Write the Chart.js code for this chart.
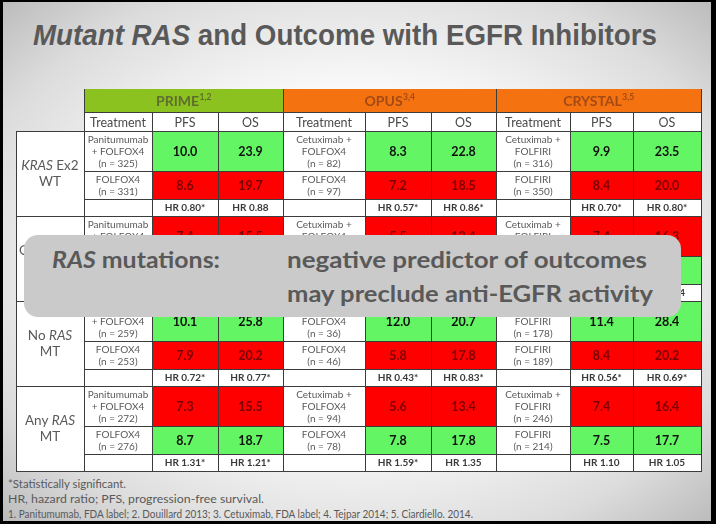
<!DOCTYPE html>
<html><head><meta charset="utf-8">
<script src="https://cdn.jsdelivr.net/npm/chart.js@4/dist/chart.umd.min.js"></script>
<style>
html,body{margin:0;padding:0}
body{width:716px;height:524px;overflow:hidden;position:relative;background:#000}
#slide{position:absolute;left:3px;top:2px;width:708px;height:519px;
 background:radial-gradient(ellipse farthest-corner at 50% 50%, #ffffff 0%, #fbfbfb 45%, #dcdcdc 80%, #bcbcbc 100%);}
#title{position:absolute;left:33px;top:21px;font:bold 29px "Liberation Sans",Arial,sans-serif;line-height:1;color:#595959;white-space:nowrap;transform-origin:0 0}
#cv{position:absolute;left:15px;top:88px}
#overlay{position:absolute;left:24px;top:235px;width:657px;height:82px;background:#cacaca;border-radius:14px}
.ovl{position:absolute;font:bold 23px Lato,sans-serif;line-height:1;color:#595959;white-space:nowrap;transform-origin:0 0}
.note{position:absolute;left:8px;font:11px Lato,sans-serif;line-height:1;color:#595959;white-space:nowrap;transform-origin:0 0}
</style></head>
<body>
<div id="slide"></div>
<div id="title"><i>Mutant RAS</i> and Outcome with EGFR Inhibitors</div>
<canvas id="cv" width="687" height="384"></canvas>
<div id="overlay"></div>
<div class="ovl" id="o1" style="left:52px;top:248px"><i>RAS</i> mutations:</div>
<div class="ovl" id="o2" style="left:287px;top:248px">negative predictor of outcomes</div>
<div class="ovl" id="o3" style="left:287px;top:282px">may preclude anti-EGFR activity</div>
<div class="note" id="n1" style="top:478px">*Statistically significant.</div>
<div class="note" id="n2" style="top:493px">HR, hazard ratio; PFS, progression-free survival.</div>
<div class="note" id="n3" style="top:508px">1. Panitumumab, FDA label; 2. Douillard 2013; 3. Cetuximab, FDA label; 4. Tejpar 2014; 5. Ciardiello. 2014.</div>
<script>
// ---------- DATA ----------
const studies = ['PRIME', 'OPUS', 'CRYSTAL'];
const studyRefs = ['1,2', '3,4', '3,5'];
const subHeaders = ['Treatment', 'PFS', 'OS'];
const groupLine1 = ['KRAS Ex2', 'Other RAS', 'No RAS', 'Any RAS'];
const groupItalic = ['KRAS', 'RAS', 'RAS', 'RAS'];
const groupLine2 = ['WT', 'MT', 'MT', 'MT'];
const treatmentArms = ['Panitumumab|+ FOLFOX4', 'Cetuximab +|FOLFOX4', 'Cetuximab +|FOLFIRI'];
const controlArms = ['FOLFOX4', 'FOLFOX4', 'FOLFIRI'];
const nTreatment = [[325, 82, 316], [51, 17, 30], [259, 36, 178], [272, 94, 246]];
const nControl   = [[331, 97, 350], [53, 14, 31], [253, 46, 189], [276, 78, 214]];
const pfsTreatment = [[10.0, 8.3, 9.9], [7.4, 5.5, 7.4], [10.1, 12.0, 11.4], [7.3, 5.6, 7.4]];
const pfsControl   = [[8.6, 7.2, 8.4], [8.0, 7.7, 7.8], [7.9, 5.8, 8.4], [8.7, 7.8, 7.5]];
const osTreatment  = [[23.9, 22.8, 23.5], [15.5, 13.4, 16.3], [25.8, 20.7, 28.4], [15.5, 13.4, 16.4]];
const osControl    = [[19.7, 18.5, 20.0], [18.7, 17.8, 18.2], [20.2, 17.8, 20.2], [18.7, 17.8, 17.7]];
const hrPFS = [['0.80*', '0.57*', '0.70*'], ['1.28', '1.80', '1.10'], ['0.72*', '0.43*', '0.56*'], ['1.31*', '1.59*', '1.10']];
const hrOS  = [['0.88', '0.86*', '0.80*'], ['1.29', '1.52', '1.14'], ['0.77*', '0.83*', '0.69*'], ['1.21*', '1.35', '1.05']];

// ---------- LAYOUT / STYLE ----------
const colW = [68, 68, 66, 65, 82, 66, 65, 74, 63, 68];
const rowH = [23, 19].concat(...groupLine1.map(() => [40, 28, 17]));
const headerBg = ['#8CC21F', '#F4720F', '#F4720F'];
const headerFg = ['#5E6E2E', '#A34A16', '#A34A16'];
const GREEN = '#63F563', RED = '#FF0000';
const LINE = '#3c3c3c', TXT = '#595959';
const FONT = 'Lato, sans-serif';

function cum(a){ const r=[0]; a.forEach(v=>r.push(r[r.length-1]+v)); return r; }
const colE = cum(colW), rowE = cum(rowH);

const tablePlugin = {
  id: 'tableDraw',
  afterDraw(chart){
    const ctx = chart.ctx, xs = chart.scales.x, ys = chart.scales.y;
    const X = i => Math.round(xs.getPixelForValue(colE[i]));
    const Y = i => Math.round(ys.getPixelForValue(rowE[i]));
    const rect = (c0, c1, r0, r1, col) => { ctx.fillStyle = col; ctx.fillRect(X(c0), Y(r0), X(c1)-X(c0), Y(r1)-Y(r0)); };
    const text = (s, x, y, font, col, align='center') => { ctx.font = font; ctx.fillStyle = col; ctx.textAlign = align; ctx.textBaseline = 'middle'; ctx.fillText(s, x, y); };
    const cx = c => (X(c)+X(c+1))/2, cy = r => (Y(r)+Y(r+1))/2;
    const nRows = rowH.length, nCols = colW.length;
    ctx.save();
    rect(1, nCols, 1, nRows, '#ffffff');
    rect(0, 1, 2, nRows, '#ffffff');
    studies.forEach((s, i) => rect(1+3*i, 4+3*i, 0, 1, headerBg[i]));
    groupLine1.forEach((g, gi) => {
      const rT = 2+3*gi, rC = 3+3*gi;
      studies.forEach((s, si) => {
        const pairs = [[pfsTreatment[gi][si], pfsControl[gi][si]], [osTreatment[gi][si], osControl[gi][si]]];
        pairs.forEach(([t, c], k) => {
          const col = 2+3*si+k;
          rect(col, col+1, rT, rT+1, t >= c ? GREEN : RED);
          rect(col, col+1, rC, rC+1, c > t ? GREEN : RED);
        });
      });
    });
    ctx.strokeStyle = LINE; ctx.lineWidth = 1;
    const hline = (r, c0, c1) => { ctx.beginPath(); ctx.moveTo(X(c0), Y(r)+0.5); ctx.lineTo(X(c1)+1, Y(r)+0.5); ctx.stroke(); };
    const vline = (c, r0, r1) => { ctx.beginPath(); ctx.moveTo(X(c)+0.5, Y(r0)); ctx.lineTo(X(c)+0.5, Y(r1)+1); ctx.stroke(); };
    for (let r = 1; r <= nRows; r++) hline(r, (r-2) % 3 === 0 && r >= 2 ? 0 : 1, nCols);
    for (let c = 1; c <= nCols; c++) vline(c, (c-1) % 3 === 0 ? 0 : 1, nRows);
    vline(0, 2, nRows);
    studies.forEach((s, i) => {
      const x = (X(1+3*i)+X(4+3*i))/2, y = cy(0);
      ctx.font = 'bold 14px ' + FONT; const w1 = ctx.measureText(s).width;
      ctx.font = 'bold 8.5px ' + FONT; const w2 = ctx.measureText(studyRefs[i]).width;
      const x0 = x - (w1+w2)/2;
      text(s, x0, y+1, 'bold 14px ' + FONT, headerFg[i], 'left');
      text(studyRefs[i], x0+w1+0.5, y-3, 'bold 8.5px ' + FONT, headerFg[i], 'left');
      subHeaders.forEach((h, k) => text(h, cx(1+3*i+k), cy(1)+1, '12.5px ' + FONT, '#4a4a4a'));
    });
    groupLine1.forEach((g, gi) => {
      const rT = 2+3*gi, rC = 3+3*gi, rH = 4+3*gi;
      const mid = (Y(rT)+Y(rH+1))/2, x = cx(0);
      const it = groupItalic[gi], rest = g.replace(it, '');
      const itFirst = g.indexOf(it) === 0;
      const fN = '13.5px ' + FONT, fI = 'italic 13.5px ' + FONT;
      ctx.font = fI; const wi = ctx.measureText(it).width;
      ctx.font = fN; const wr = ctx.measureText(rest).width;
      let x0 = x - (wi+wr)/2;
      if (itFirst) { text(it, x0, mid-8, fI, TXT, 'left'); text(rest, x0+wi, mid-8, fN, TXT, 'left'); }
      else { text(rest, x0, mid-8, fN, TXT, 'left'); text(it, x0+wr, mid-8, fI, TXT, 'left'); }
      text(groupLine2[gi], x, mid+8, fN, TXT);
      studies.forEach((s, si) => {
        const tl = treatmentArms[si].split('|').concat(['(n = ' + nTreatment[gi][si] + ')']);
        tl.forEach((l, k) => text(l, cx(1+3*si), cy(rT) + (k-1)*12 + 0.5, '10px ' + FONT, TXT));
        const cl = [controlArms[si], '(n = ' + nControl[gi][si] + ')'];
        cl.forEach((l, k) => text(l, cx(1+3*si), cy(rC) + (k-0.5)*12 + 0.5, '10px ' + FONT, TXT));
        const vals = [[pfsTreatment[gi][si], pfsControl[gi][si]], [osTreatment[gi][si], osControl[gi][si]]];
        vals.forEach(([t, c], k) => {
          const col = 2+3*si+k;
          text(t.toFixed(1), cx(col), cy(rT)+0.5, 'bold 12.5px ' + FONT, t >= c ? '#111111' : '#7A0000');
          text(c.toFixed(1), cx(col), cy(rC)+0.5, 'bold 12.5px ' + FONT, c > t ? '#111111' : '#7A0000');
        });
        text('HR ' + hrPFS[gi][si], cx(2+3*si), cy(rH)+0.5, 'bold 10px ' + FONT, '#3a3a3a');
        text('HR ' + hrOS[gi][si], cx(3+3*si), cy(rH)+0.5, 'bold 10px ' + FONT, '#3a3a3a');
      });
    });
    ctx.restore();
  }
};

new Chart(document.getElementById('cv'), {
  type: 'scatter',
  data: { datasets: [] },
  options: {
    responsive: false, animation: false, events: [],
    layout: { padding: 1 },
    plugins: { legend: { display: false }, tooltip: { enabled: false }, title: { display: false } },
    scales: {
      x: { type: 'linear', min: 0, max: colE[colE.length-1], display: false },
      y: { type: 'linear', min: 0, max: rowE[rowE.length-1], reverse: true, display: false }
    }
  },
  plugins: [tablePlugin]
});

function fit(id, w){ const el = document.getElementById(id); const r = el.getBoundingClientRect().width; el.style.transform = 'scaleX(' + (w/r) + ')'; }
fit('title', 624); fit('o1', 168); fit('o2', 360); fit('o3', 366);
fit('n1', 118); fit('n2', 256); fit('n3', 465);
</script>
</body></html>
